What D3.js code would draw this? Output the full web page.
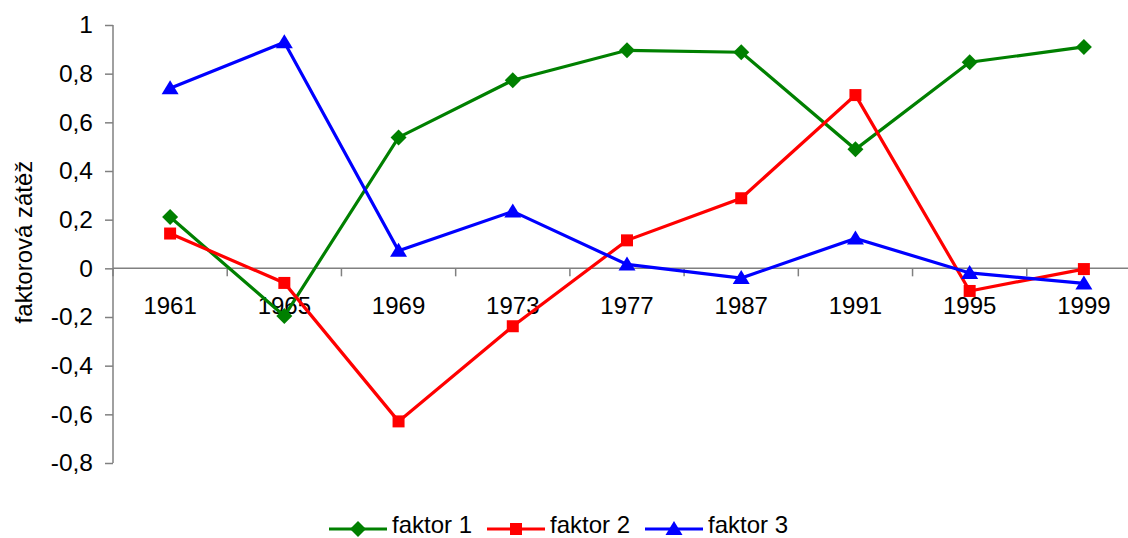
<!DOCTYPE html>
<html><head><meta charset="utf-8">
<script src="https://cdn.jsdelivr.net/npm/d3@7"></script>
<style>body{margin:0;background:#fff}svg{display:block}</style>
</head><body>
<script>
const years = ["1961","1965","1969","1973","1977","1987","1991","1995","1999"];
const faktor1 = [0.211,-0.196,0.538,0.773,0.896,0.888,0.489,0.847,0.91];
const faktor2 = [0.143,-0.06,-0.629,-0.238,0.115,0.288,0.712,-0.093,-0.003];
const faktor3 = [0.74,0.929,0.072,0.234,0.016,-0.04,0.123,-0.019,-0.062];
const yTicks = [1,0.8,0.6,0.4,0.2,0,-0.2,-0.4,-0.6,-0.8];
const seriesNames = ["faktor 1","faktor 2","faktor 3"];

const W=1128,H=538;
const svg=d3.select("body").append("svg").attr("width",W).attr("height",H);
const font="Liberation Sans, Arial, sans-serif";
const x=d3.scaleBand().domain(years).range([113,1141]);
const y=d3.scaleLinear().domain([-0.8,1]).range([463,25]);

// y axis
const ya=svg.append("g").attr("transform","translate(113,0)")
  .call(d3.axisLeft(y).tickValues(yTicks).tickSize(8).tickPadding(12)
  .tickFormat(d=> d===0?"0":(d===1?"1":String(d).replace(".",","))));
ya.selectAll("text").attr("font-family",font).attr("font-size",24.5).attr("fill","#000");
ya.selectAll("line,path").attr("stroke","#808080").attr("stroke-width",1.5);
ya.select("path").attr("d","M0,463V25");

// x axis at zero
const xa=svg.append("g").attr("transform",`translate(0,${y(0)})`)
  .call(d3.axisBottom(x).tickSize(0).tickPadding(29));
xa.select("path").attr("d","M113,0H1128").attr("stroke","#808080").attr("stroke-width",1.5);
xa.selectAll("text").attr("font-family",font).attr("font-size",24).attr("fill","#000");
const bounds=years.map(d=>x(d)).concat([x(years[years.length-1])+x.bandwidth()]);
xa.selectAll(".bt").data(bounds).enter().append("line")
  .attr("x1",d=>d).attr("x2",d=>d).attr("y1",0).attr("y2",8)
  .attr("stroke","#808080").attr("stroke-width",1.5);

// y label
svg.append("text").attr("transform","translate(32,242) rotate(-90)")
  .attr("text-anchor","middle").attr("font-family",font).attr("font-size",24).text("faktorová zátěž");

const cx=d=>x(d)+x.bandwidth()/2;
const colors=["#008000","#ff0000","#0000ff"];
const datas=[faktor1,faktor2,faktor3];
const syms=["M0,-8L8,0L0,8L-8,0Z","M-6,-6H6V6H-6Z","M0,-8L8.5,6H-8.5Z"];
const line=d3.line().x(d=>cx(d.k)).y(d=>y(d.v));
datas.forEach((arr,i)=>{
  const pts=arr.map((v,j)=>({k:years[j],v}));
  svg.append("path").datum(pts).attr("d",line).attr("fill","none")
    .attr("stroke",colors[i]).attr("stroke-width",3.2);
});
datas.forEach((arr,i)=>{
  const pts=arr.map((v,j)=>({k:years[j],v}));
  svg.selectAll(null).data(pts).enter().append("path")
    .attr("d",syms[i]).attr("fill",colors[i])
    .attr("transform",d=>`translate(${cx(d.k)},${y(d.v)})`);
});

// legend
const lx=[329,487,645];
seriesNames.forEach((n,i)=>{
  const g=svg.append("g").attr("transform",`translate(${lx[i]},529)`);
  g.append("line").attr("x1",0).attr("x2",58).attr("stroke",colors[i]).attr("stroke-width",3.2);
  g.append("path").attr("d",syms[i]).attr("fill",colors[i]).attr("transform","translate(29,0)");
  g.append("text").attr("x",63).attr("y",3.5).attr("font-family",font).attr("font-size",24).text(n);
});
</script>
</body></html>
